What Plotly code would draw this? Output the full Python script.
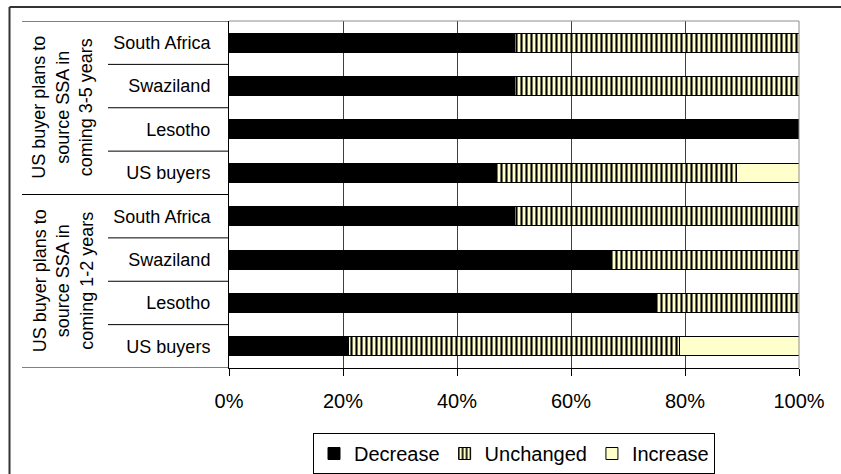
import plotly.graph_objects as go

# ---- data (top-level arrays) ----
countries = ["US buyers", "Lesotho", "Swaziland", "South Africa"]
group_labels = ["US buyer plans to<br>source SSA in<br>coming 1-2 years",
                "US buyer plans to<br>source SSA in<br>coming 3-5 years"]
decrease_1_2 = [21, 75, 67, 50]
unchanged_1_2 = [58, 25, 33, 50]
increase_1_2 = [21, 0, 0, 0]
decrease_3_5 = [47, 100, 50, 50]
unchanged_3_5 = [42, 0, 50, 50]
increase_3_5 = [11, 0, 0, 0]
x_ticks = [0, 20, 40, 60, 80, 100]
x_tick_labels = ["0%", "20%", "40%", "60%", "80%", "100%"]
series_names = ["Decrease", "Unchanged", "Increase"]

# rows bottom -> top
row_labels = countries + countries
decrease = decrease_1_2 + decrease_3_5
unchanged = unchanged_1_2 + unchanged_3_5
increase = increase_1_2 + increase_3_5
rows = list(range(len(row_labels)))

W, H = 841, 474
L, R, T, B = 229, 42, 21, 106
pw, ph = W - L - R, H - T - B


def px_to_paper_x(px):
    return (px - L) / pw


def px_to_paper_y(py):
    return (H - B - py) / ph


FONT = "Liberation Sans, Arial, sans-serif"
YELLOW = "#FFFFCC"

fig = go.Figure()
bw = 0.44
fig.add_trace(go.Bar(
    y=rows, x=decrease, orientation="h", name=series_names[0], width=bw,
    marker=dict(color="black", line=dict(color="black", width=1)),
))
fig.add_trace(go.Bar(
    y=rows, x=unchanged, orientation="h", name=series_names[1], width=bw,
    marker=dict(color=YELLOW, line=dict(color="black", width=1),
                pattern=dict(shape="|", fgcolor="black", bgcolor=YELLOW,
                             size=5, solidity=0.42, fillmode="replace")),
))
fig.add_trace(go.Bar(
    y=rows, x=increase, orientation="h", name=series_names[2], width=bw,
    marker=dict(color=YELLOW, line=dict(color="black", width=1)),
))

shapes = []
# row separators on the category axis
n = len(row_labels)
group_size = len(countries)
for i in range(n + 1):
    yb = i - 0.5
    is_group = (i % group_size == 0)
    x0 = px_to_paper_x(22) if is_group else px_to_paper_x(108)
    shapes.append(dict(type="line", xref="paper", yref="y", x0=x0, x1=0,
                       y0=yb, y1=yb, line=dict(color="black", width=1)))
# plot area top & right border (grey)
shapes.append(dict(type="line", xref="paper", yref="paper", x0=0, x1=1, y0=1, y1=1,
                   line=dict(color="#8c8c8c", width=1)))
shapes.append(dict(type="line", xref="paper", yref="paper", x0=1, x1=1, y0=0, y1=1,
                   line=dict(color="#8c8c8c", width=1)))
# outer chart frame (only top and left visible)
fx = px_to_paper_x(9.5)
fy = px_to_paper_y(7)
shapes.append(dict(type="line", xref="paper", yref="paper", x0=fx, x1=1.2, y0=fy, y1=fy,
                   line=dict(color="#333333", width=2)))
shapes.append(dict(type="line", xref="paper", yref="paper", x0=fx, x1=fx, y0=fy, y1=-0.5,
                   line=dict(color="#333333", width=2)))

annotations = []
for g, txt in enumerate(group_labels):
    annotations.append(dict(
        text=txt, xref="paper", yref="y", x=px_to_paper_x(63),
        y=g * group_size + (group_size - 1) / 2, textangle=-90, showarrow=False,
        font=dict(family=FONT, size=18, color="black"), align="center",
        xanchor="center", yanchor="middle",
    ))

fig.update_layout(
    width=W, height=H,
    margin=dict(l=L, r=R, t=T, b=B, pad=0, autoexpand=False),
    barmode="stack",
    paper_bgcolor="white", plot_bgcolor="white",
    font=dict(family=FONT, size=18, color="black"),
    showlegend=True,
    legend=dict(orientation="h", x=px_to_paper_x(514), xanchor="center",
                y=px_to_paper_y(433), yanchor="top",
                bordercolor="black", borderwidth=1, bgcolor="white",
                font=dict(family=FONT, size=20, color="black"),
                itemwidth=30, traceorder="normal"),
    shapes=shapes,
    annotations=annotations,
)
fig.update_xaxes(
    range=[0, 100], tickvals=x_ticks, ticktext=x_tick_labels,
    showgrid=True, gridcolor="#404040", gridwidth=1, zeroline=False,
    showline=True, linecolor="black", linewidth=1,
    ticks="outside", ticklen=7, tickcolor="black", tickwidth=1,
    ticklabelstandoff=8,
    tickfont=dict(family=FONT, size=20, color="black"),
)
fig.update_yaxes(
    range=[-0.5, n - 0.5], tickvals=rows, ticktext=row_labels,
    showgrid=False, zeroline=False,
    showline=True, linecolor="black", linewidth=1,
    ticks="", ticklabelstandoff=14,
    tickfont=dict(family=FONT, size=18, color="black"),
)

fig.write_html("out.html", config={"displayModeBar": False},
               post_script="document.body.style.margin='0';document.body.style.overflow='hidden';")
